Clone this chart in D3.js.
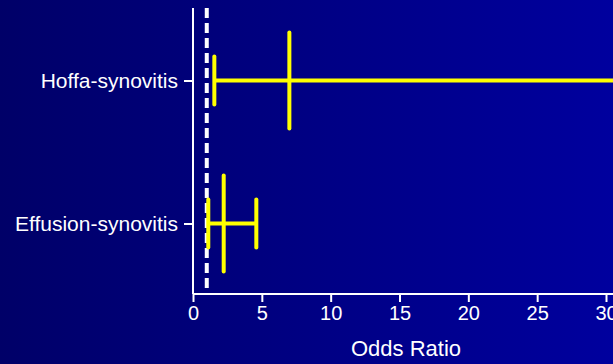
<!DOCTYPE html>
<html>
<head>
<meta charset="utf-8">
<script src="https://cdn.jsdelivr.net/npm/d3@7"></script>
<style>
  html, body { margin: 0; padding: 0; background: #00006a; }
  svg { display: block; }
</style>
</head>
<body>
<svg id="chart" width="613" height="364"></svg>
<script>
// Forest plot: odds ratios with 95% confidence intervals
const categories = ["Hoffa-synovitis", "Effusion-synovitis"];
const oddsRatio = [7.0, 2.23];
const ciLower = [1.55, 1.11];
const ciUpper = [38, 4.6];
const xTicks = [0, 5, 10, 15, 20, 25, 30];
const referenceOR = 1;

const W = 613, H = 364;
const svg = d3.select("#chart");

// background gradient
const defs = svg.append("defs");
const grad = defs.append("linearGradient").attr("id", "bg")
  .attr("x1", "0%").attr("y1", "0%").attr("x2", "100%").attr("y2", "0%");
grad.append("stop").attr("offset", "0%").attr("stop-color", "#000068");
grad.append("stop").attr("offset", "100%").attr("stop-color", "#00009e");
svg.append("rect").attr("width", W).attr("height", H).attr("fill", "url(#bg)");

const x = d3.scaleLinear().domain([0, 30]).range([193, 606]);
const y = d3.scalePoint().domain(categories).range([80.5, 223.5]);
const axisY = 294, axisTop = 8;

const font = "'Liberation Sans', Arial, Helvetica, sans-serif";

// x axis
const xAxis = svg.append("g").attr("transform", `translate(0,${axisY})`)
  .call(d3.axisBottom(x).tickValues(xTicks).tickSize(8).tickPadding(4).tickFormat(d3.format("d")));
xAxis.select(".domain").remove();
xAxis.append("line").attr("x1", x(0)).attr("x2", W).attr("y1", 0).attr("y2", 0)
  .attr("stroke", "#fff").attr("stroke-width", 2);
xAxis.selectAll(".tick line").attr("stroke", "#fff").attr("stroke-width", 2);
xAxis.selectAll(".tick text").attr("fill", "#fff").attr("font-size", 20)
  .attr("font-family", font);

// y axis
const yAxis = svg.append("g").attr("transform", `translate(${x(0)},0)`)
  .call(d3.axisLeft(y).tickSize(9).tickPadding(6));
yAxis.select(".domain").remove();
yAxis.append("line").attr("x1", 0).attr("x2", 0).attr("y1", axisTop).attr("y2", axisY)
  .attr("stroke", "#fff").attr("stroke-width", 2);
yAxis.selectAll(".tick line").attr("stroke", "#fff").attr("stroke-width", 2);
yAxis.selectAll(".tick text").attr("fill", "#fff").attr("font-size", 21)
  .attr("font-family", font);

// axis title
svg.append("text").attr("x", 406).attr("y", 356).attr("text-anchor", "middle")
  .attr("fill", "#fff").attr("font-size", 22).attr("font-family", font)
  .text("Odds Ratio");

// reference line at OR = 1
svg.append("line").attr("x1", x(referenceOR)).attr("x2", x(referenceOR))
  .attr("y1", axisTop).attr("y2", axisY)
  .attr("stroke", "#fff").attr("stroke-width", 4).attr("stroke-dasharray", "10 5");

// intervals
const rows = categories.map((c, i) => ({ c, or: oddsRatio[i], lo: ciLower[i], hi: ciUpper[i] }));
const g = svg.append("g").attr("stroke", "#ffff00").attr("stroke-width", 4)
  .attr("stroke-linecap", "round");
rows.forEach(r => {
  const cy = y(r.c);
  g.append("line").attr("x1", x(r.lo)).attr("x2", x(r.hi)).attr("y1", cy).attr("y2", cy)
    .attr("stroke-linecap", "butt");
  g.append("line").attr("x1", x(r.lo)).attr("x2", x(r.lo)).attr("y1", cy - 24).attr("y2", cy + 24);
  g.append("line").attr("x1", x(r.hi)).attr("x2", x(r.hi)).attr("y1", cy - 24).attr("y2", cy + 24);
  g.append("line").attr("x1", x(r.or)).attr("x2", x(r.or)).attr("y1", cy - 48).attr("y2", cy + 48);
});
</script>
</body>
</html>
